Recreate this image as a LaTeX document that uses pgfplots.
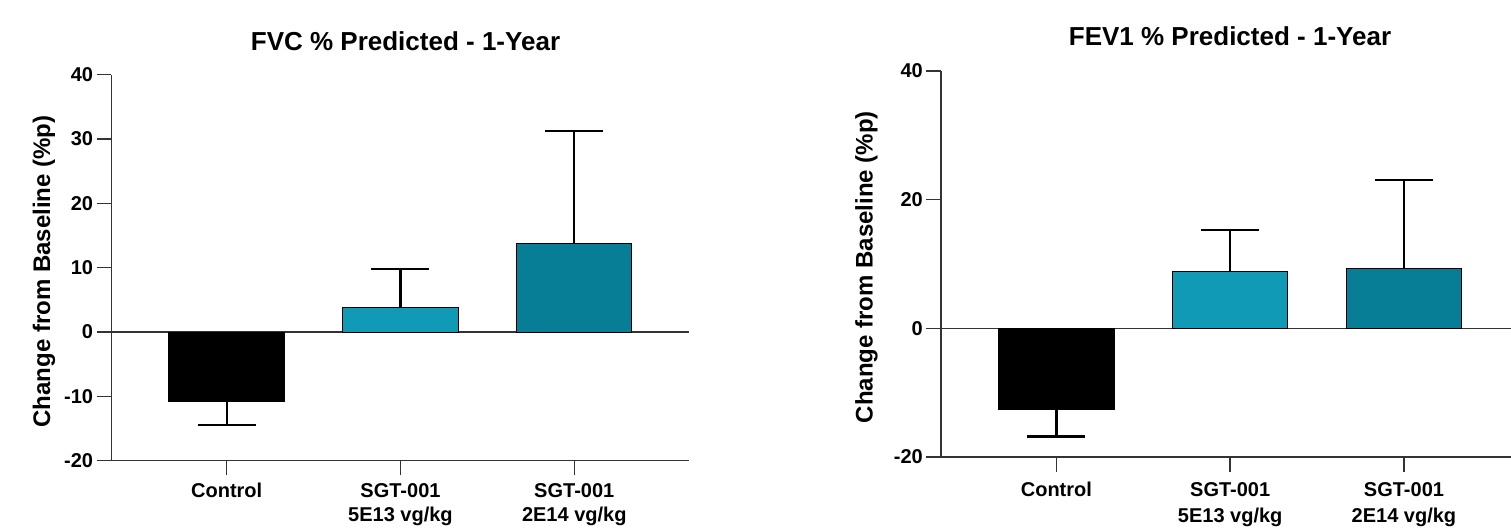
\documentclass[border=0pt]{standalone}
\usepackage{fontspec}
\setmainfont{Liberation Sans}
\usepackage{pgfplots}
\pgfplotsset{compat=1.18}
\definecolor{tealA}{HTML}{119AB5}
\definecolor{tealB}{HTML}{087E96}
\definecolor{axgray}{HTML}{333333}
\pgfplotsset{
  lungaxis/.style={
    scale only axis, width=578pt, height=386pt,
    anchor=south west,
    xmin=-0.664, xmax=2.662, ymin=-20, ymax=40,
    axis x line=bottom, axis y line=left,
    axis line style={-, axgray, line width=1.4pt},
    tick align=outside, major tick length=14.7pt,
    major tick style={axgray, line width=1.4pt},
    xtick={0,1,2},
    xticklabels={Control, {SGT-001\\5E13 vg/kg}, {SGT-001\\2E14 vg/kg}},
    y tick label style={font=\bfseries\fontsize{20}{24}\selectfont},
    /pgf/number format/assume math mode=true,
    ylabel={Change from Baseline (\%p)},
    every axis y label/.style={rotate=90, anchor=center, font=\bfseries\fontsize{24}{28}\selectfont},
    clip=false,
  },
  errstyle/.style={error bars/.cd, y explicit, y dir=#1,
    error bar style={line width=2.2pt, black},
    error mark=|,
    error mark options={black, line width=2.2pt, mark size=29pt}},
  barsty/.style={ybar, bar width=115.4pt, bar shift=0pt, draw=black, line width=1pt, fill=#1},
}
\begin{document}
\begin{tikzpicture}
% ---------- Left: FVC ----------
\begin{axis}[lungaxis,
  at={(111.3pt,66.3pt)},
  ytick={-20,-10,0,10,20,30,40},
  x tick label style={font=\bfseries\fontsize{20}{24.5}\selectfont, align=center, yshift=-4.5pt},
  title={FVC \% Predicted - 1-Year},
  every axis title/.style={at={(axis description cs:0.509,1)}, anchor=base, yshift=24pt,
    font=\bfseries\fontsize{26}{30}\selectfont},
  every axis y label/.append style={at={(axis description cs:-0.1164,0.490)}},
]
\addplot[axgray, line width=1.4pt, forget plot] coordinates {(-0.664,0) (2.662,0)};
\addplot[barsty=black, errstyle=minus] coordinates {(0,-10.73) -= (0,3.77)};
\addplot[barsty=tealA, errstyle=plus] coordinates {(1,3.87) += (0,5.87)};
\addplot[barsty=tealB, errstyle=plus] coordinates {(2,13.8) += (0,17.5)};
\end{axis}
% ---------- Right: FEV1 ----------
\begin{axis}[lungaxis,
  at={(941pt,70pt)},
  ytick={-20,0,20,40},
  x tick label style={font=\bfseries\fontsize{20}{26.5}\selectfont, align=center, yshift=-7pt},
  title={FEV1 \% Predicted - 1-Year},
  every axis title/.style={at={(axis description cs:0.5,1)}, anchor=base, yshift=25pt,
    font=\bfseries\fontsize{26}{30}\selectfont},
  every axis y label/.append style={at={(axis description cs:-0.129,0.492)}},
]
\addplot[axgray, line width=1.4pt, forget plot] coordinates {(-0.664,0) (2.662,0)};
\addplot[barsty=black, errstyle=minus] coordinates {(0,-12.67) -= (0,4.13)};
\addplot[barsty=tealA, errstyle=plus] coordinates {(1,8.8) += (0,6.44)};
\addplot[barsty=tealB, errstyle=plus] coordinates {(2,9.27) += (0,13.77)};
\end{axis}
\pgfresetboundingbox
\path (0pt,0pt) rectangle (1511pt,527pt);
\end{tikzpicture}
\end{document}
